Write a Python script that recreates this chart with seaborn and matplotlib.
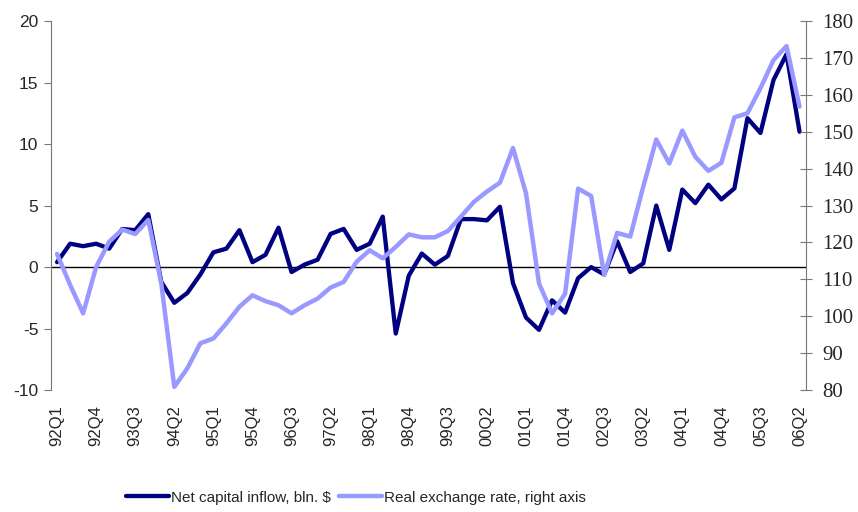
"""Net capital inflow vs real exchange rate, quarterly 1992-2006."""

import matplotlib
matplotlib.use("Agg")
import matplotlib.pyplot as plt
import pandas as pd
import seaborn as sns

quarters = [f"{y % 100:02d}Q{q}" for y in range(1992, 2007) for q in range(1, 5)][:58]

net_inflow = [
    0.4, 1.9, 1.7, 1.9, 1.5, 3.1, 3.0, 4.3, -1.2, -2.9,
    -2.1, -0.6, 1.2, 1.5, 3.0, 0.4, 1.0, 3.2, -0.4, 0.2,
    0.6, 2.7, 3.1, 1.4, 1.9, 4.1, -5.4, -0.7, 1.1, 0.2,
    0.9, 3.9, 3.9, 3.8, 4.9, -1.3, -4.1, -5.1, -2.7, -3.7,
    -0.9, 0.0, -0.6, 2.1, -0.4, 0.3, 5.0, 1.4, 6.3, 5.2,
    6.7, 5.5, 6.4, 12.1, 10.9, 15.2, 17.3, 11.0,
]

real_fx = [
    116.9, 108.5, 100.8, 113.4, 120.2, 123.5, 122.3, 126.1, 108.9, 80.9,
    85.9, 92.7, 94.0, 98.1, 102.6, 105.7, 104.1, 103.0, 100.8, 103.0,
    104.8, 107.8, 109.3, 114.8, 117.9, 115.7, 118.8, 122.2, 121.4, 121.4,
    123.1, 127.0, 131.0, 133.8, 136.2, 145.6, 133.3, 108.9, 100.8, 106.1,
    134.6, 132.6, 111.2, 122.6, 121.6, 135.1, 147.9, 141.4, 150.3, 143.2,
    139.4, 141.6, 153.9, 155.0, 161.8, 169.4, 173.2, 156.8,
]

df = pd.DataFrame({"pos": range(len(quarters)), "quarter": quarters,
                   "inflow": net_inflow, "fx": real_fx})

sns.set_style("white")
plt.rcParams["font.family"] = ["Liberation Sans", "DejaVu Sans"]
plt.rcParams["axes.unicode_minus"] = False

fig = plt.figure(figsize=(8.58, 5.12), dpi=100)
ax = fig.add_axes([0.0594, 0.238, 0.8796, 0.721])
ax2 = ax.twinx()

dark = "#000080"
light = "#9999FF"

ax.axhline(0, color="black", lw=1, zorder=1)
sns.lineplot(data=df, x="pos", y="inflow", ax=ax, color=dark, lw=3.1,
             label="Net capital inflow, bln. $", legend=False, zorder=3)
sns.lineplot(data=df, x="pos", y="fx", ax=ax2, color=light, lw=3.2,
             label="Real exchange rate, right axis", legend=False, zorder=3)

ax.set_xlim(-0.47, len(quarters) - 0.53)
ax.set_ylim(-10, 20)
ax2.set_ylim(80, 180)
ax.set_yticks(range(-10, 21, 5))
ax2.set_yticks(range(80, 181, 10))

tick_pos = list(range(0, len(quarters), 3))
ax.set_xticks(tick_pos)
ax.set_xticklabels([quarters[i] for i in tick_pos], rotation=90, fontsize=12)
ax.tick_params(axis="x", length=0, pad=11)

spine_col = "#777777"
for a in (ax, ax2):
    for s in a.spines.values():
        s.set_visible(False)
ax.spines["left"].set_visible(True)
ax.spines["left"].set_color(spine_col)
ax2.spines["right"].set_visible(True)
ax2.spines["right"].set_color(spine_col)

ax.tick_params(axis="y", direction="out", length=5, color=spine_col, labelsize=12.5, pad=4)
ax2.tick_params(axis="y", direction="inout", length=8, color=spine_col, pad=8)
for lbl in ax2.get_yticklabels():
    lbl.set_fontfamily(["Liberation Serif", "DejaVu Serif"])
    lbl.set_fontsize(15)

ax.set_xlabel("")
ax.set_ylabel("")
ax2.set_ylabel("")
ax.grid(False)
ax2.grid(False)

h1, l1 = ax.get_legend_handles_labels()
h2, l2 = ax2.get_legend_handles_labels()
fig.legend(h1 + h2, l1 + l2, loc="center", bbox_to_anchor=(0.415, 0.028), ncol=2,
           frameon=False, fontsize=11, handlelength=2.8, handletextpad=0.15,
           columnspacing=0.5)

fig.savefig("out.png", dpi=100)
